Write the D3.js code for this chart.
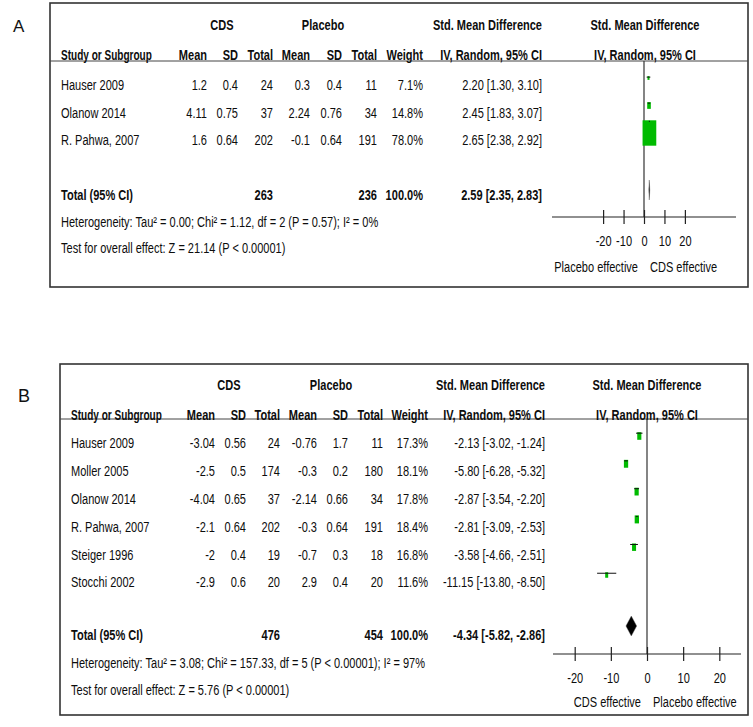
<!DOCTYPE html>
<html><head><meta charset="utf-8">
<script src="https://cdn.jsdelivr.net/npm/d3@7"></script>
<style>body{margin:0;background:#fff} svg{display:block}</style>
</head><body>
<script>
// ---------------- Panel A data ----------------
const studiesA = ["Hauser 2009", "Olanow 2014", "R. Pahwa, 2007"];
const cdsMeanA = ["1.2", "4.11", "1.6"];
const cdsSDA   = ["0.4", "0.75", "0.64"];
const cdsNA    = [24, 37, 202];
const plMeanA  = ["0.3", "2.24", "-0.1"];
const plSDA    = ["0.4", "0.76", "0.64"];
const plNA     = [11, 34, 191];
const weightA  = [7.1, 14.8, 78.0];
const smdA     = [2.20, 2.45, 2.65];
const loA      = [1.30, 1.83, 2.38];
const hiA      = [3.10, 3.07, 2.92];
const totalA   = [263, 236, 100.0, 2.59, 2.35, 2.83]; // cdsN, plN, weight, smd, lo, hi
const hetA  = "Heterogeneity: Tau\u00B2 = 0.00; Chi\u00B2 = 1.12, df = 2 (P = 0.57); I\u00B2 = 0%";
const testA = "Test for overall effect: Z = 21.14 (P < 0.00001)";
const effLabelsA = ["Placebo effective", "CDS effective"];

// ---------------- Panel B data ----------------
const studiesB = ["Hauser 2009", "Moller 2005", "Olanow 2014", "R. Pahwa, 2007", "Steiger 1996", "Stocchi 2002"];
const cdsMeanB = ["-3.04", "-2.5", "-4.04", "-2.1", "-2", "-2.9"];
const cdsSDB   = ["0.56", "0.5", "0.65", "0.64", "0.4", "0.6"];
const cdsNB    = [24, 174, 37, 202, 19, 20];
const plMeanB  = ["-0.76", "-0.3", "-2.14", "-0.3", "-0.7", "2.9"];
const plSDB    = ["1.7", "0.2", "0.66", "0.64", "0.3", "0.4"];
const plNB     = [11, 180, 34, 191, 18, 20];
const weightB  = [17.3, 18.1, 17.8, 18.4, 16.8, 11.6];
const smdB     = [-2.13, -5.80, -2.87, -2.81, -3.58, -11.15];
const loB      = [-3.02, -6.28, -3.54, -3.09, -4.66, -13.80];
const hiB      = [-1.24, -5.32, -2.20, -2.53, -2.51, -8.50];
const totalB   = [476, 454, 100.0, -4.34, -5.82, -2.86];
const hetB  = "Heterogeneity: Tau\u00B2 = 3.08; Chi\u00B2 = 157.33, df = 5 (P < 0.00001); I\u00B2 = 97%";
const testB = "Test for overall effect: Z = 5.76 (P < 0.00001)";
const effLabelsB = ["CDS effective", "Placebo effective"];

const axisTicks = [-20, -10, 0, 10, 20];
const headerTop = ["CDS", "Placebo", "Std. Mean Difference", "Std. Mean Difference"];
const headerCols = ["Study or Subgroup", "Mean", "SD", "Total", "Mean", "SD", "Total", "Weight", "IV, Random, 95% CI", "IV, Random, 95% CI"];

// ---------------- drawing ----------------
const W = 753, H = 727;
const FS = 15, SX = 0.735, TXT = "#0d0d0d", GREEN = "#00bb00";
const FONT = "'Liberation Sans', Arial, sans-serif";
const svg = d3.select("body").append("svg").attr("width", W).attr("height", H)
  .style("font-family", FONT);

function txt(g, x, yc, s, anchor, bold, sx) {
  return g.append("text")
    .attr("transform", `translate(${x},${yc + 5.4}) scale(${sx || SX},1)`)
    .attr("text-anchor", anchor || "start")
    .attr("font-weight", bold ? "bold" : "normal")
    .attr("font-size", FS).attr("fill", TXT).text(s);
}
const loc = d3.formatLocale({decimal: ".", thousands: ",", grouping: [3], currency: ["", ""], minus: "-"});
const f2 = loc.format(".2f"), fd = loc.format("d");
const ciStr = (m, l, h) => `${f2(m)} [${f2(l)}, ${f2(h)}]`;
const sizeScale = d3.scalePow().exponent(0.8).domain([0, 80]).range([0, 14]);

function drawPanel(D, L) {
  const g = svg.append("g");
  g.append("text").attr("x", L.labelX).attr("y", L.labelY).attr("font-size", L.labelFS)
    .attr("fill", "#111").text(L.label);
  g.append("rect").attr("x", L.box[0]).attr("y", L.box[1]).attr("width", L.box[2]).attr("height", L.box[3])
    .attr("fill", "none").attr("stroke", "#333").attr("stroke-width", 1.6);
  g.append("line").attr("x1", L.box[0]).attr("x2", L.box[0] + L.box[2]).attr("y1", L.line).attr("y2", L.line)
    .attr("stroke", "#444").attr("stroke-width", 1);

  const C = L.cols;
  txt(g, L.cdsC, L.h1, headerTop[0], "middle", true);
  txt(g, L.plC, L.h1, headerTop[1], "middle", true);
  txt(g, C.ci, L.h1, headerTop[2], "end", true);
  txt(g, L.forestC, L.h1, headerTop[3], "middle", true);
  const hx = [C.study, C.mean, C.sd, C.n, C.pmean, C.psd, C.pn, C.weight, C.ci, L.forestC];
  const ha = ["start", "end", "end", "end", "end", "end", "end", "end", "end", "middle"];
  headerCols.forEach((s, i) => txt(g, hx[i], L.h2, s, ha[i], true, i === 0 ? 0.67 : SX));

  const rowY = D.studies.map((_, i) => L.row0 + i * L.rowStep);
  D.studies.forEach((s, i) => {
    const y = rowY[i];
    txt(g, C.study, y, s, "start");
    txt(g, C.mean, y, D.cdsMean[i], "end");
    txt(g, C.sd, y, D.cdsSD[i], "end");
    txt(g, C.n, y, D.cdsN[i], "end");
    txt(g, C.pmean, y, D.plMean[i], "end");
    txt(g, C.psd, y, D.plSD[i], "end");
    txt(g, C.pn, y, D.plN[i], "end");
    txt(g, C.weight, y, D.weight[i].toFixed(1) + "%", "end");
    txt(g, C.ci, y, ciStr(D.smd[i], D.lo[i], D.hi[i]), "end");
  });
  const T = D.total;
  txt(g, C.study, L.totalY, "Total (95% CI)", "start", true);
  txt(g, C.n, L.totalY, T[0], "end", true);
  txt(g, C.pn, L.totalY, T[1], "end", true);
  txt(g, C.weight, L.totalY, T[2].toFixed(1) + "%", "end", true);
  txt(g, C.ci, L.totalY, ciStr(T[3], T[4], T[5]), "end", true);
  txt(g, C.study, L.hetY, D.het, "start");
  txt(g, C.study, L.testY, D.test, "start");

  // forest plot
  const x = d3.scaleLinear().domain(L.domain).range(L.range);
  g.append("line").attr("x1", x(0)).attr("x2", x(0)).attr("y1", L.line).attr("y2", L.axisY)
    .attr("stroke", "#333").attr("stroke-width", 1.2);
  g.append("line").attr("x1", x.range()[0]).attr("x2", x.range()[1]).attr("y1", L.axisY).attr("y2", L.axisY)
    .attr("stroke", "#222").attr("stroke-width", 1.2);
  const ax = g.append("g").attr("transform", `translate(0,${L.axisY - 7})`)
    .call(d3.axisBottom(x).tickValues(axisTicks).tickSize(14).tickSizeOuter(0).tickPadding(L.tickPad).tickFormat(fd));
  ax.select(".domain").remove();
  ax.selectAll(".tick line").attr("stroke", "#222").attr("stroke-width", 1.2);
  ax.selectAll(".tick text").attr("font-size", FS).attr("fill", TXT)
    .attr("font-family", FONT).attr("transform", `scale(${SX},1)`);

  D.studies.forEach((s, i) => {
    const cy = rowY[i] + L.mOff;
    const w = sizeScale(D.weight[i]), h = w * 1.85;
    g.append("rect").attr("x", x(D.smd[i]) - w / 2).attr("y", cy - h / 2).attr("width", w).attr("height", h)
      .attr("fill", GREEN);
    g.append("line").attr("x1", x(D.lo[i])).attr("x2", x(D.hi[i]))
      .attr("y1", cy - h / 2 + 1).attr("y2", cy - h / 2 + 1).attr("stroke", "#111").attr("stroke-width", 1);
  });
  const dy = L.totalY + L.dOff, hh = 10;
  g.append("polygon").attr("points",
    [[x(T[4]), dy], [x(T[3]), dy - hh], [x(T[5]), dy], [x(T[3]), dy + hh]].map(p => p.join(",")).join(" "))
    .attr("fill", "#000").attr("stroke", "#555").attr("stroke-width", 0.4);

  txt(g, x(0) - 6, L.effY, D.eff[0], "end");
  txt(g, x(0) + 6, L.effY, D.eff[1], "start");
}

drawPanel({
  studies: studiesA, cdsMean: cdsMeanA, cdsSD: cdsSDA, cdsN: cdsNA, plMean: plMeanA, plSD: plSDA, plN: plNA,
  weight: weightA, smd: smdA, lo: loA, hi: hiA, total: totalA, het: hetA, test: testA, eff: effLabelsA
}, {
  box: [50, 3, 698, 284], label: "A", labelX: 13, labelY: 32, labelFS: 17,
  h1: 25, h2: 54.5, line: 61, row0: 85, rowStep: 27.5, totalY: 195, hetY: 222, testY: 248,
  cols: {study: 61, mean: 207, sd: 238, n: 273, pmean: 310, psd: 342, pn: 377, weight: 423, ci: 542},
  cdsC: 222, plC: 323, forestC: 645,
  domain: [-45, 45], range: [552, 736], axisY: 217, tickPad: 11, effY: 267, mOff: -7, dOff: -5
});

drawPanel({
  studies: studiesB, cdsMean: cdsMeanB, cdsSD: cdsSDB, cdsN: cdsNB, plMean: plMeanB, plSD: plSDB, plN: plNB,
  weight: weightB, smd: smdB, lo: loB, hi: hiB, total: totalB, het: hetB, test: testB, eff: effLabelsB
}, {
  box: [60, 364, 688, 351], label: "B", labelX: 18, labelY: 402, labelFS: 18,
  h1: 385, h2: 414.5, line: 419, row0: 443, rowStep: 27.8, totalY: 635, hetY: 663, testY: 690,
  cols: {study: 71, mean: 215, sd: 246, n: 280, pmean: 317, psd: 348, pn: 383, weight: 428, ci: 545},
  cdsC: 229, plC: 331, forestC: 647,
  domain: [-26, 26], range: [553, 741], axisY: 654, tickPad: 11, effY: 702, mOff: -7, dOff: -9
});
</script>
</body></html>
